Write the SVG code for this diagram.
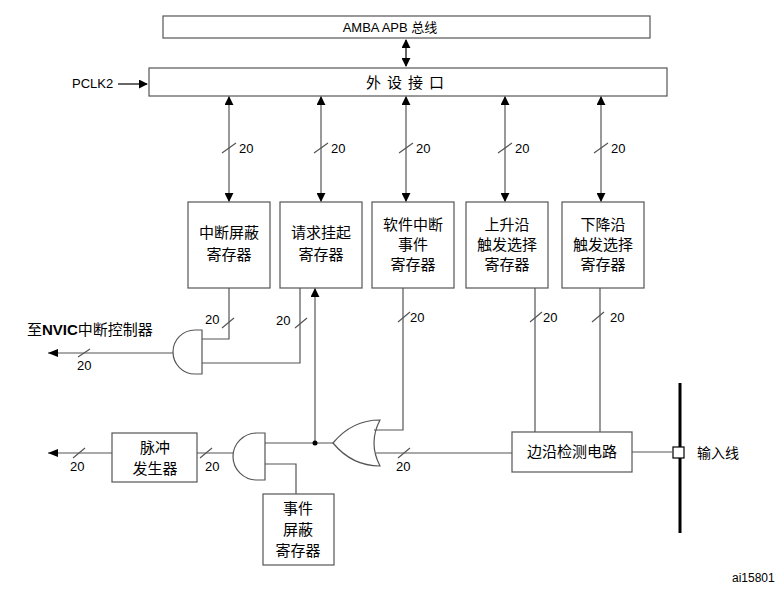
<svg xmlns="http://www.w3.org/2000/svg" width="782" height="590" viewBox="0 0 782 590">
<defs>
<marker id="a" viewBox="0 0 10 10" refX="9" refY="5" markerWidth="9" markerHeight="9" markerUnits="userSpaceOnUse" orient="auto-start-reverse"><path d="M0,0L10,5L0,10z" fill="#000"/></marker>
<style>
text{font-family:"Liberation Sans","Noto Sans CJK SC",sans-serif;font-size:13px;fill:#000}
.c{font-size:15px;text-anchor:middle}
rect,.g{fill:#fff;stroke:#555;stroke-width:1.2}
.l{fill:none;stroke:#555;stroke-width:1.2}
.k{fill:none;stroke:#000;stroke-width:1.2}
</style>
</defs>
<rect width="782" height="590" fill="#fff" style="stroke:none"/>
<g id="bus"><rect x="163" y="16" width="487" height="22"/><text x="390" y="32" class="c" style="font-size:13px">AMBA APB 总线</text></g>
<g id="periph"><rect x="149" y="68" width="518" height="28"/><text x="408" y="88" class="c" style="letter-spacing:6px">外设接口</text></g>
<g id="b1"><rect x="188" y="202" width="82" height="86"/><text x="229" y="238" class="c">中断屏蔽</text><text x="229" y="260" class="c">寄存器</text></g>
<g id="b2"><rect x="280" y="202" width="82" height="86"/><text x="321" y="238" class="c">请求挂起</text><text x="321" y="260" class="c">寄存器</text></g>
<g id="b3"><rect x="372" y="202" width="82" height="86"/><text x="413" y="230" class="c">软件中断</text><text x="413" y="250" class="c">事件</text><text x="413" y="270" class="c">寄存器</text></g>
<g id="b4"><rect x="466" y="202" width="82" height="86"/><text x="507" y="230" class="c">上升沿</text><text x="507" y="250" class="c">触发选择</text><text x="507" y="270" class="c">寄存器</text></g>
<g id="b5"><rect x="562" y="202" width="82" height="86"/><text x="603" y="230" class="c">下降沿</text><text x="603" y="250" class="c">触发选择</text><text x="603" y="270" class="c">寄存器</text></g>
<g id="pulse"><rect x="112" y="433" width="85" height="49"/><text x="155" y="453" class="c">脉冲</text><text x="155" y="474" class="c">发生器</text></g>
<g id="evmask"><rect x="263" y="494" width="71" height="71"/><text x="298" y="514" class="c">事件</text><text x="298" y="535" class="c">屏蔽</text><text x="298" y="556" class="c">寄存器</text></g>
<g id="edge"><rect x="512" y="432" width="120" height="40"/><text x="572" y="457" class="c">边沿检测电路</text></g>
<g id="and1"><path class="g" d="M202,330V374H195A22,22 0 0 1 195,330Z"/></g>
<g id="and2"><path class="g" d="M265,433V480H257A24,23.5 0 0 1 257,433Z"/></g>
<g id="or1"><path class="g" d="M380,420Q352,420 333,443Q352,466 380,466Q368,443 380,420Z"/></g>
<g id="input"><line x1="680" y1="383" x2="680" y2="533" stroke="#000" stroke-width="3"/><rect x="673" y="447" width="11" height="11" style="stroke:#000"/><text x="697" y="458" style="font-size:14px">输入线</text></g>
<g id="connectors">
<line class="k" x1="406" y1="40" x2="406" y2="66" marker-start="url(#a)" marker-end="url(#a)"/>
<line class="k" x1="118" y1="84" x2="147" y2="84" marker-end="url(#a)"/>
<text x="72" y="88">PCLK2</text>
<g class="l">
<line x1="229" y1="97" x2="229" y2="201" marker-start="url(#a)" marker-end="url(#a)"/>
<line x1="321" y1="97" x2="321" y2="201" marker-start="url(#a)" marker-end="url(#a)"/>
<line x1="406" y1="97" x2="406" y2="201" marker-start="url(#a)" marker-end="url(#a)"/>
<line x1="505" y1="97" x2="505" y2="201" marker-start="url(#a)" marker-end="url(#a)"/>
<line x1="601" y1="97" x2="601" y2="201" marker-start="url(#a)" marker-end="url(#a)"/>
<line x1="315" y1="443" x2="315" y2="289" marker-end="url(#a)"/>
<path d="M229,288V339H202M202,363H300V288M173,353H48M265,443H333M233,453H197M112,453H48M265,464H296V494M374,430H403V288M376,453H512M535,288V432M600,288V432M632,452H673"/>
<path d="M222,153L236,143M314,153L328,143M399,153L413,143M498,153L512,143M594,153L608,143M222,328L234,318M295,328L307,318M398,322L410,312M530,322L542,312M592,322L604,312M78,357L90,349M73,458L85,448M200,458L212,448M398,458L410,448"/>
</g>
<path d="M48,353l10,-4v8z M48,453l10,-4v8z" fill="#000"/>
<circle cx="315" cy="443" r="2.5" fill="#000"/>
<text x="239" y="153">20</text><text x="331" y="153">20</text><text x="416" y="153">20</text><text x="515" y="153">20</text><text x="611" y="153">20</text>
<text x="205" y="324">20</text><text x="276" y="325">20</text><text x="410" y="322">20</text><text x="543" y="322">20</text><text x="610" y="322">20</text>
<text x="77" y="370">20</text><text x="70" y="471">20</text><text x="205" y="471">20</text><text x="396" y="471">20</text>
<text x="27" y="335" style="font-size:15px"><tspan>至</tspan><tspan font-weight="bold">NVIC</tspan><tspan>中断控制器</tspan></text>
</g>
<text x="732" y="582" style="font-size:12px">ai15801</text>
</svg>
